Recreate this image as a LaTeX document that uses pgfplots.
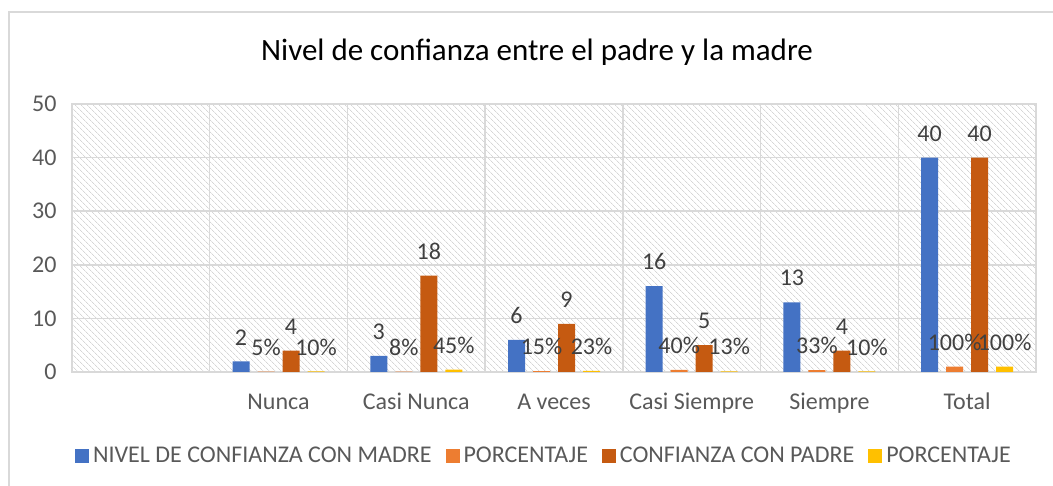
\documentclass[border=0pt]{standalone}
\usepackage{pgfplots}
\pgfplotsset{compat=1.18}
\usepackage{pgfplotstable}
\usetikzlibrary{patterns.meta}
\usepackage{fontspec}
\setmainfont{Carlito}
\definecolor{cblue}{HTML}{4472C4}
\definecolor{corange}{HTML}{ED7D31}
\definecolor{cpadre}{HTML}{C55A11}
\definecolor{cgold}{HTML}{FFC000}
\definecolor{ctext}{HTML}{595959}
\definecolor{clab}{HTML}{404040}
\definecolor{cgrid}{HTML}{D9D9D9}

\pgfplotstableread{
x y lab
1 2 2
2 3 3
3 6 6
4 16 16
5 13 13
6 40 40
}\madre
\pgfplotstableread{
x y lab
1 0.05 5\%
2 0.08 8\%
3 0.15 15\%
4 0.40 40\%
5 0.33 33\%
6 1.00 100\%
}\madrepct
\pgfplotstableread{
x y lab
1 4 4
2 18 18
3 9 9
4 5 5
5 4 4
6 40 40
}\padre
\pgfplotstableread{
x y lab
1 0.10 10\%
2 0.45 45\%
3 0.23 23\%
4 0.13 13\%
5 0.10 10\%
6 1.00 100\%
}\padrepct

\begin{document}
\begin{tikzpicture}
\useasboundingbox (0,0) rectangle (1053pt,486pt);
\draw[cgrid, line width=1.5pt] (9pt,0pt) -- (9pt,474pt) -- (1053pt,474pt);
\node[font=\fontsize{31}{37}\selectfont, text=black] at (537pt,434pt) {Nivel de confianza entre el padre y la madre};
\begin{axis}[
  at={(72pt,114pt)}, anchor=south west,
  width=964pt, height=268pt, scale only axis,
  ybar=8pt, bar width=17pt,
  xmin=-0.5, xmax=6.5, ymin=0, ymax=50,
  xtick={0,...,6},
  xticklabels={,Nunca,Casi Nunca,A veces,Casi Siempre,Siempre,Total},
  minor xtick={0.5,1.5,2.5,3.5,4.5,5.5},
  ytick={0,10,...,50},
  ymajorgrids, xminorgrids,
  grid style={cgrid, line width=1.5pt},
  minor grid style={cgrid, line width=1.5pt},
  major tick length=0pt, minor tick length=0pt,
  axis line style={cgrid, line width=1.5pt},
  axis background/.style={pattern={Lines[angle=-45, distance=4pt, line width=0.7pt]}, pattern color=black!16},
  /pgf/number format/assume math mode=true,
  tick label style={font=\fontsize{24}{29}\selectfont, text=ctext},
  xticklabel style={anchor=north, text height=16pt, text depth=5pt, yshift=-18pt},
  yticklabel style={xshift=-12pt},
  point meta=explicit symbolic,
  nodes near coords,
  nodes near coords style={font=\fontsize{24}{29}\selectfont, text=clab, anchor=south, inner sep=0pt, yshift=16pt},
  clip=false,
  legend columns=4,
  legend image code/.code={\fill[#1] (0pt,-7pt) rectangle (14pt,7pt);},
  legend style={at={(0.489,-0.313)}, anchor=center, draw=none, fill=none,
    font=\fontsize{24}{29}\selectfont, text=ctext,
    /tikz/every odd column/.append style={column sep=3pt},
    /tikz/every even column/.append style={column sep=13pt},
    nodes={inner sep=1pt}},
]
\addplot[fill=cblue, draw=none] table[x=x,y=y,meta=lab] {\madre};
\addplot[fill=corange, draw=none] table[x=x,y=y,meta=lab] {\madrepct};
\addplot[fill=cpadre, draw=none] table[x=x,y=y,meta=lab] {\padre};
\addplot[fill=cgold, draw=none] table[x=x,y=y,meta=lab] {\padrepct};
\legend{NIVEL DE CONFIANZA CON MADRE, PORCENTAJE, CONFIANZA CON PADRE, PORCENTAJE}
\end{axis}
\end{tikzpicture}
\end{document}
